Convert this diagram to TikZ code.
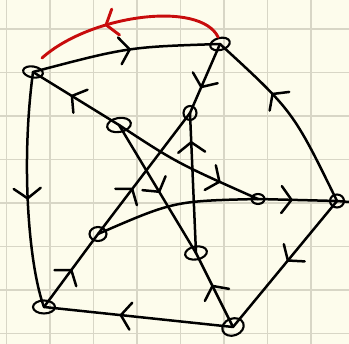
\documentclass[tikz,border=0pt]{standalone}
\usetikzlibrary{arrows.meta,decorations.markings,shapes.geometric}
\definecolor{paper}{RGB}{253,252,236}
\definecolor{gridc}{RGB}{216,214,198}
\definecolor{inkred}{RGB}{200,12,12}
\begin{document}
\begin{tikzpicture}[x=1pt,y=-1pt,
  vtx/.style={draw,ellipse,line width=2.1pt,inner sep=0pt},
  edge/.style={line width=2.5pt,line cap=round,line join=round},
  marr/.style={postaction={decorate},decoration={markings,
     mark=at position #1 with {\arrow{Straight Barb[length=10pt,width=27pt,round]}}}}]
\useasboundingbox (0,0) rectangle (349,344);
\fill[paper] (0,0) rectangle (349,344);
\foreach \gx in {6.5,50,93.5,137,180.5,224,267.5,311}
  \draw[gridc,line width=1.4pt] (\gx,0) -- (\gx,344);
\foreach \gy in {29,72.5,116,159.5,203,246.5,290,333.5}
  \draw[gridc,line width=1.4pt] (0,\gy) -- (349,\gy);
% vertices
\node[vtx,minimum width=20pt,minimum height=11pt,rotate=-10] (A) at (33,72) {};
\node[vtx,minimum width=20pt,minimum height=12pt,rotate=15] (B) at (220,44) {};
\node[vtx,minimum width=24pt,minimum height=14pt,rotate=10] (C) at (119,125) {};
\node[vtx,minimum width=13pt,minimum height=14pt] (D) at (190,113) {};
\node[vtx,minimum width=13pt,minimum height=10pt] (E) at (258,199) {};
\node[vtx,minimum width=14pt,minimum height=13pt] (F) at (337,201) {};
\node[vtx,minimum width=17pt,minimum height=14pt] (G) at (98,234) {};
\node[vtx,minimum width=22pt,minimum height=13pt,rotate=10] (H) at (196,253) {};
\node[vtx,minimum width=22pt,minimum height=13pt] (I) at (44,307) {};
\node[vtx,minimum width=22pt,minimum height=17pt,rotate=20] (J) at (233,327) {};
\coordinate (Fr) at (349,202);
\coordinate (R1) at (42,58);
% edges
\draw[edge,marr=0.53] (A.center) .. controls (128,47) .. (B.center);
\draw[edge,marr=0.56] (C.center) -- (A.center);
\draw[edge,marr=0.54] (A.center) .. controls (20,170) and (30,270) .. (I.center);
\draw[edge,marr=0.64] (B.center) -- (D.center);
\draw[edge,marr=0.64] (F.center) .. controls (293,111) .. (B.center);
\draw[edge,marr=0.8] (H.center) -- (D.center);
\draw[edge,marr=0.38] (G.center) -- (D.center);
\draw[edge,marr=0.52] (I.center) -- (G.center);
\draw[edge,marr=0.53] (C.center) -- (H.center);
\draw[edge,marr=0.57] (J.center) -- (H.center);
\draw[edge,marr=0.74] (C.center) .. controls (177,163) .. (E.center);
\draw[edge] (G.center) .. controls (174,201) .. (E.center);
\draw[edge,marr=0.44] (E.center) -- (F.center);
\draw[edge] (F.center) -- (Fr);
\draw[edge,marr=0.48] (F.center) -- (J.center);
\draw[edge,marr=0.6] (J.center) -- (I.center);
\draw[edge,inkred,line width=2.9pt,marr=0.63] (B.north) .. controls (200,0) and (90,15) .. (R1);
\end{tikzpicture}
\end{document}
